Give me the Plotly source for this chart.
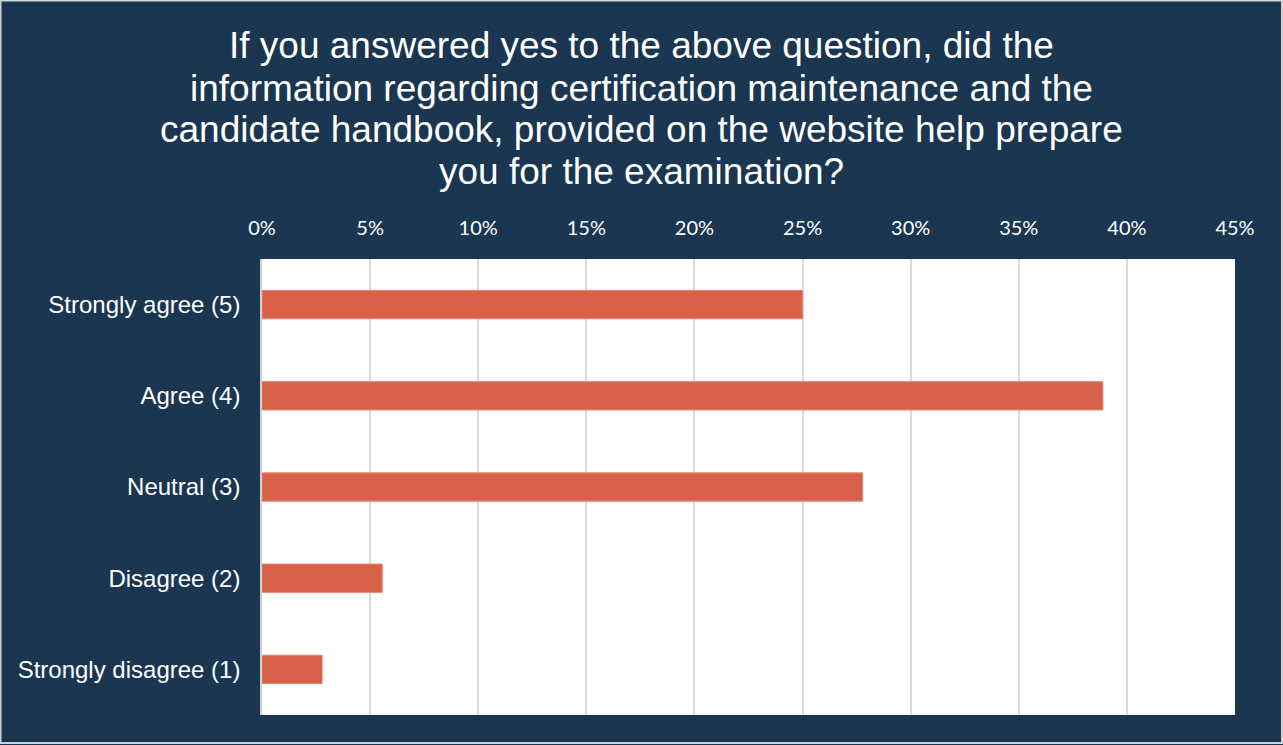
import plotly.graph_objects as go

# Survey responses (share of respondents)
categories = ["Strongly agree (5)", "Agree (4)", "Neutral (3)", "Disagree (2)", "Strongly disagree (1)"]
shares = [0.25, 0.3889, 0.2778, 0.0556, 0.0278]
tick_values = [0, 0.05, 0.10, 0.15, 0.20, 0.25, 0.30, 0.35, 0.40, 0.45]
tick_labels = ["0%", "5%", "10%", "15%", "20%", "25%", "30%", "35%", "40%", "45%"]

title_lines = [
    "If you answered yes to the above question, did the",
    "information regarding certification maintenance and the",
    "candidate handbook, provided on the website help prepare",
    "you for the examination?",
]

W, H = 1283, 745
ML, MR, MT, MB = 262, 48, 259, 30
PW, PH = W - ML - MR, H - MT - MB

navy = "#1a3650"

fig = go.Figure(go.Bar(
    y=categories,
    x=shares,
    orientation="h",
    marker=dict(color="#d9614a", line=dict(color="#e5826f", width=1)),
    width=0.31,
    hoverinfo="skip",
))

# Title drawn line by line, centred over the whole chart
line_centres = [45, 88, 130, 172]
annotations = [
    dict(text=t, xref="paper", yref="paper",
         x=(W / 2 - ML) / PW, y=1 + (MT - yc) / PH,
         xanchor="center", yanchor="middle", showarrow=False,
         font=dict(family="Liberation Sans, Arial, sans-serif", size=37, color="white"))
    for t, yc in zip(title_lines, line_centres)
]

fig.update_layout(
    width=W, height=H,
    margin=dict(l=ML, r=MR, t=MT, b=MB, pad=0),
    paper_bgcolor=navy,
    plot_bgcolor="white",
    showlegend=False,
    annotations=annotations,
    xaxis=dict(
        side="top",
        range=[0, 0.45],
        tickvals=tick_values,
        ticktext=tick_labels,
        showgrid=True,
        gridcolor="#d9d9d9",
        gridwidth=1.5,
        zeroline=False,
        showline=False,
        ticks="outside", ticklen=15, tickcolor=navy,
        tickfont=dict(family="Lato, Carlito, sans-serif", size=20, color="white"),
        fixedrange=True,
    ),
    yaxis=dict(
        categoryorder="array",
        categoryarray=categories[::-1],
        showline=True,
        linecolor="#d0d0d0",
        linewidth=1.5,
        showgrid=False,
        ticks="outside", ticklen=15, tickcolor=navy,
        tickfont=dict(family="Liberation Sans, Arial, sans-serif", size=24, color="white"),
        fixedrange=True,
    ),
    shapes=[
        # Thin light frame around the whole chart
        dict(type="rect", xref="paper", yref="paper",
             x0=-ML / PW + 0.5 / PW, x1=1 + (MR - 1) / PW,
             y0=-(MB - 2) / PH, y1=1 + (MT - 0.5) / PH,
             line=dict(color="#cfd3d6", width=2), layer="below"),
    ],
)

fig.write_html("out.html", config={"displayModeBar": False})
